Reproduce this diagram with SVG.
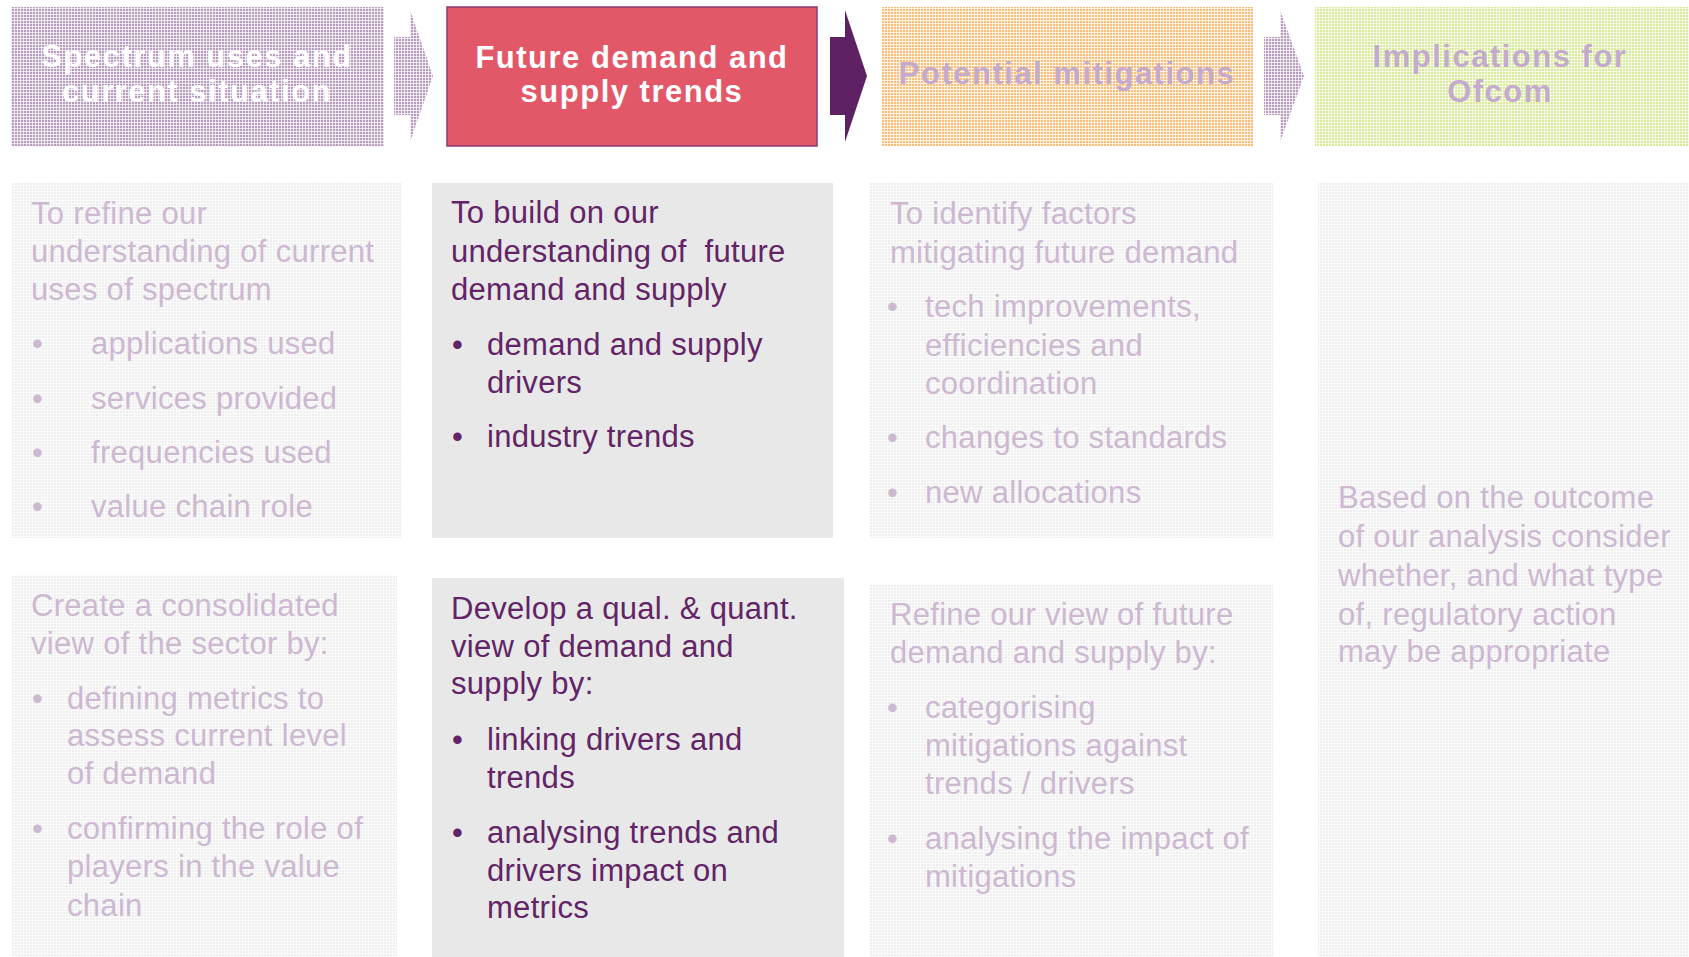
<svg xmlns="http://www.w3.org/2000/svg" width="1689" height="957" viewBox="0 0 1689 957">
<defs>
<pattern id="pPurple" width="3" height="3" patternUnits="userSpaceOnUse"><rect width="3" height="3" fill="#b89cc0"/><path d="M2.5 0V3M0 2.5H3" stroke="#fff" stroke-opacity="0.75"/></pattern>
<pattern id="pOrange" width="3" height="3" patternUnits="userSpaceOnUse"><rect width="3" height="3" fill="#fabd76"/><path d="M2.5 0V3M0 2.5H3" stroke="#fff" stroke-opacity="0.75"/></pattern>
<pattern id="pGreen" width="3" height="3" patternUnits="userSpaceOnUse"><rect width="3" height="3" fill="#d6ea98"/><path d="M2.5 0V3M0 2.5H3" stroke="#fff" stroke-opacity="0.75"/></pattern>
<pattern id="pGrey" width="3" height="3" patternUnits="userSpaceOnUse"><rect width="3" height="3" fill="#eeeeee"/><path d="M2.5 0V3M0 2.5H3" stroke="#fff" stroke-opacity="0.75"/></pattern>
</defs>
<style>
text{font-family:"Liberation Sans",Arial,sans-serif}
.hd{font-size:31px;font-weight:bold;letter-spacing:1.5px;text-anchor:middle}
.hw{fill:#ffffff}
.hg{fill:#c4aacc}
.bd{font-size:31px;letter-spacing:0.3px}
.act{fill:#622466}
.gh{fill:#cdb8d1}
.gbox{fill:url(#pGrey)}
</style>
<rect width="1689" height="957" fill="#ffffff"/>

<g id="header-spectrum">
<rect x="11" y="7" width="373" height="139" fill="url(#pPurple)"/>
<text class="hd hw" x="197" y="67">Spectrum uses and</text>
<text class="hd hw" x="197" y="102">current situation</text>
</g>
<g id="header-future">
<rect x="447" y="7" width="370" height="139" fill="#e35869" stroke="#8a3a72" stroke-width="1.5"/>
<text class="hd hw" x="632" y="68">Future demand and</text>
<text class="hd hw" x="632" y="102">supply trends</text>
</g>
<g id="header-mitigations">
<rect x="882" y="7" width="371" height="139" fill="url(#pOrange)"/>
<text class="hd hg" x="1067" y="84">Potential mitigations</text>
</g>
<g id="header-implications">
<rect x="1315" y="7" width="374" height="139" fill="url(#pGreen)"/>
<text class="hd hg" x="1500" y="67">Implications for</text>
<text class="hd hg" x="1500" y="102">Ofcom</text>
</g>

<g id="connectors">
<path d="M394 37H410V10L433 76L410 142V115H394Z" fill="url(#pPurple)"/>
<path d="M830 37H845V10L867 76L845 142V115H830Z" fill="#5e2163"/>
<path d="M1264 37H1280V10L1304 76L1280 142V115H1264Z" fill="url(#pPurple)"/>
</g>

<g id="c1-top">
<rect class="gbox" x="12" y="183" width="390" height="355"/>
<text class="bd gh" x="31" y="224">To refine our</text>
<text class="bd gh" x="31" y="262">understanding of current</text>
<text class="bd gh" x="31" y="300">uses of spectrum</text>
<text class="bd gh" x="32" y="354">•</text><text class="bd gh" x="91" y="354">applications used</text>
<text class="bd gh" x="32" y="409">•</text><text class="bd gh" x="91" y="409">services provided</text>
<text class="bd gh" x="32" y="463">•</text><text class="bd gh" x="91" y="463">frequencies used</text>
<text class="bd gh" x="32" y="517">•</text><text class="bd gh" x="91" y="517">value chain role</text>
</g>

<g id="c2-top">
<rect x="432" y="183" width="401" height="355" fill="#e8e8e8"/>
<text class="bd act" x="451" y="223">To build on our</text>
<text class="bd act" x="451" y="262" xml:space="preserve">understanding of  future</text>
<text class="bd act" x="451" y="300">demand and supply</text>
<text class="bd act" x="452" y="355">•</text><text class="bd act" x="487" y="355">demand and supply</text>
<text class="bd act" x="487" y="393">drivers</text>
<text class="bd act" x="452" y="447">•</text><text class="bd act" x="487" y="447">industry trends</text>
</g>

<g id="c3-top">
<rect class="gbox" x="869" y="183" width="404" height="355"/>
<text class="bd gh" x="890" y="224">To identify factors</text>
<text class="bd gh" x="890" y="263">mitigating future demand</text>
<text class="bd gh" x="887" y="317">•</text><text class="bd gh" x="925" y="317">tech improvements,</text>
<text class="bd gh" x="925" y="356">efficiencies and</text>
<text class="bd gh" x="925" y="394">coordination</text>
<text class="bd gh" x="887" y="448">•</text><text class="bd gh" x="925" y="448">changes to standards</text>
<text class="bd gh" x="887" y="503">•</text><text class="bd gh" x="925" y="503">new allocations</text>
</g>

<g id="c4">
<rect class="gbox" x="1318" y="183" width="371" height="774"/>
<text class="bd gh" x="1338" y="508">Based on the outcome</text>
<text class="bd gh" x="1338" y="547">of our analysis consider</text>
<text class="bd gh" x="1338" y="586">whether, and what type</text>
<text class="bd gh" x="1338" y="625">of, regulatory action</text>
<text class="bd gh" x="1338" y="662">may be appropriate</text>
</g>

<g id="c1-bottom">
<rect class="gbox" x="12" y="575" width="385" height="382"/>
<text class="bd gh" x="31" y="616">Create a consolidated</text>
<text class="bd gh" x="31" y="654">view of the sector by:</text>
<text class="bd gh" x="32" y="709">•</text><text class="bd gh" x="67" y="709">defining metrics to</text>
<text class="bd gh" x="67" y="746">assess current level</text>
<text class="bd gh" x="67" y="784">of demand</text>
<text class="bd gh" x="32" y="839">•</text><text class="bd gh" x="67" y="839">confirming the role of</text>
<text class="bd gh" x="67" y="877">players in the value</text>
<text class="bd gh" x="67" y="916">chain</text>
</g>

<g id="c2-bottom">
<rect x="432" y="578" width="412" height="379" fill="#e8e8e8"/>
<text class="bd act" x="451" y="619">Develop a qual. &amp; quant.</text>
<text class="bd act" x="451" y="657">view of demand and</text>
<text class="bd act" x="451" y="694">supply by:</text>
<text class="bd act" x="452" y="750">•</text><text class="bd act" x="487" y="750">linking drivers and</text>
<text class="bd act" x="487" y="788">trends</text>
<text class="bd act" x="452" y="843">•</text><text class="bd act" x="487" y="843">analysing trends and</text>
<text class="bd act" x="487" y="881">drivers impact on</text>
<text class="bd act" x="487" y="918">metrics</text>
</g>

<g id="c3-bottom">
<rect class="gbox" x="869" y="585" width="404" height="372"/>
<text class="bd gh" x="890" y="625">Refine our view of future</text>
<text class="bd gh" x="890" y="663">demand and supply by:</text>
<text class="bd gh" x="887" y="718">•</text><text class="bd gh" x="925" y="718">categorising</text>
<text class="bd gh" x="925" y="756">mitigations against</text>
<text class="bd gh" x="925" y="794">trends / drivers</text>
<text class="bd gh" x="887" y="849">•</text><text class="bd gh" x="925" y="849">analysing the impact of</text>
<text class="bd gh" x="925" y="887">mitigations</text>
</g>
</svg>
